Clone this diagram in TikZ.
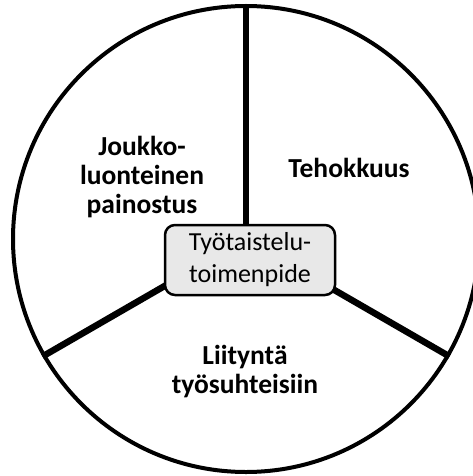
\documentclass[tikz,border=0pt]{standalone}
\usepackage{fontspec}
\setmainfont{Carlito}
\usetikzlibrary{positioning}

\begin{document}
\begin{tikzpicture}[x=1pt, y=-1pt,
    sector/.style={align=center, font=\fontsize{27.5}{29}\selectfont\bfseries},
    core/.style={rectangle, draw, rounded corners=10pt, line width=2.5pt, fill=gray!18, align=center, minimum width=170pt, minimum height=70pt, inner sep=0pt, font=\fontsize{26}{32}\selectfont},
    spoke/.style={line width=6.5pt}
]
\useasboundingbox (0,0) rectangle (473,476);

% Outer circle
\node[circle, draw, line width=4pt, minimum size=466pt, inner sep=0pt] (whole) at (246,239) {};

% Spokes from the centre out to the rim
\draw[spoke] (whole.center) -- (whole.90);
\draw[spoke] (whole.center) -- (whole.210);
\draw[spoke] (whole.center) -- (whole.330);

% Centre box
\node[core] (action) at (250,260) {Työtaistelu-\\toimenpide};

% Sector labels
\node[sector] (joukko)    at (142,177) {Joukko-\\luonteinen\\painostus};
\node[sector] (tehokkuus) at (349,168) {Tehokkuus};
\node[sector] (liitynta)  at (245,372) {Liityntä\\työsuhteisiin};

\end{tikzpicture}
\end{document}
